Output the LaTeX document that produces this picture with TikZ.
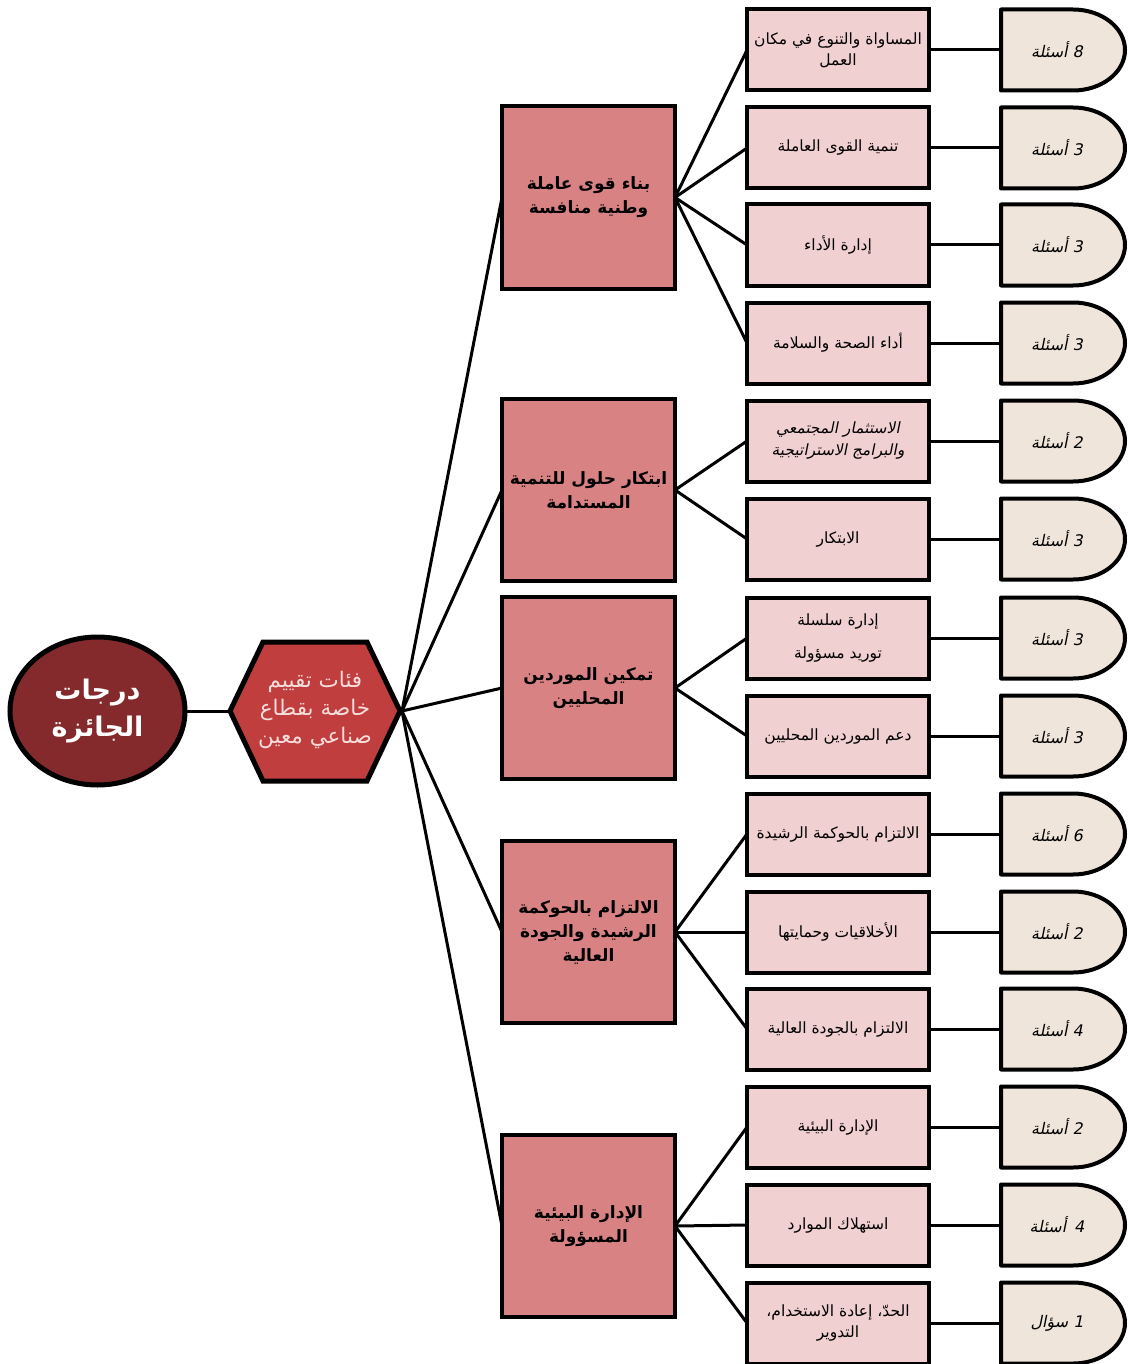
\documentclass[tikz,border=0pt]{standalone}
\usepackage{fontspec}
\usetikzlibrary{shapes.geometric}
\TeXXeTstate=1
\newfontfamily\arabicfont[Script=Arabic]{DejaVu Sans}
\newfontfamily\arabicit[Script=Arabic,FakeSlant=0.2]{DejaVu Sans}
\newcommand\AR[1]{\beginR #1\endR}
\definecolor{rootc}{HTML}{842A2C}
\definecolor{hexc}{HTML}{C13E3F}
\definecolor{hextxt}{HTML}{F5DEDC}
\definecolor{catc}{HTML}{D98283}
\definecolor{leafc}{HTML}{F1D0D2}
\definecolor{qc}{HTML}{EFE5DB}
\begin{document}
\begin{tikzpicture}[x=1pt,y=-1pt,
  conn/.style={line width=3pt},
  catbox/.style={draw, line width=4pt, fill=catc, minimum width=173pt, minimum height=182pt, inner sep=0pt, outer sep=0pt, align=center, font=\arabicfont\bfseries\fontsize{17}{24}\selectfont},
  leafbox/.style={draw, line width=4pt, fill=leafc, minimum width=182pt, minimum height=81pt, inner sep=0pt, outer sep=0pt, align=center, font=\arabicfont\fontsize{15.5}{21}\selectfont},
  qbox/.style={minimum width=112pt, minimum height=81pt, inner sep=0pt, outer sep=0pt, font=\arabicit\fontsize{16}{18}\selectfont},
  qshape/.style={draw, line width=4pt, fill=qc, line join=round}
]
\useasboundingbox[fill=white] (0,0) rectangle (1128,1364);

% root
\node[ellipse, draw, line width=5pt, fill=rootc, minimum width=175pt, minimum height=148pt, inner sep=0pt, outer sep=0pt, align=center, text=white, font=\arabicfont\bfseries\fontsize{27}{37}\selectfont] (root) at (97.5,711) {\AR{درجات}\\\AR{الجائزة}};

% hexagon
\draw[line width=5pt, fill=hexc, line join=miter] (230,711) -- (263,642) -- (367,642) -- (400,711) -- (367,781) -- (263,781) -- cycle;
\coordinate (hexL) at (228,711);
\coordinate (hexR) at (402,711);
\node[align=center, text=hextxt, font=\arabicfont\fontsize{21.5}{28}\selectfont] (hex) at (315,710) {\AR{فئات تقييم}\\\AR{خاصة بقطاع}\\\AR{صناعي معين}};

\draw[conn] (root.east) -- (hexL);

% categories
\node[catbox] (c1) at (588.5,197.5) {\AR{بناء قوى عاملة}\\\AR{وطنية منافسة}};
\node[catbox] (c2) at (588.5,490) {\AR{ابتكار حلول للتنمية}\\\AR{المستدامة}};
\node[catbox] (c3) at (588.5,688) {\AR{تمكين الموردين}\\\AR{المحليين}};
\node[catbox] (c4) at (588.5,932) {\AR{الالتزام بالحوكمة}\\\AR{الرشيدة والجودة}\\\AR{العالية}};
\node[catbox] (c5) at (588.5,1226) {\AR{الإدارة البيئية}\\\AR{المسؤولة}};

\foreach \c in {c1,c2,c3,c4,c5} \draw[conn] (hexR) -- (\c.west);

% leaves
\node[leafbox] (l1) at (838,50) {\AR{المساواة والتنوع في مكان}\\\AR{العمل}};
\node[leafbox] (l2) at (838,148) {\AR{تنمية القوى العاملة}};
\node[leafbox] (l3) at (838,245) {\AR{إدارة الأداء}};
\node[leafbox] (l4) at (838,343) {\AR{أداء الصحة والسلامة}};
\node[leafbox, font=\arabicit\fontsize{15.5}{22}\selectfont] (l5) at (838,441) {\AR{الاستثمار المجتمعي}\\\AR{والبرامج الاستراتيجية}};
\node[leafbox] (l6) at (838,539) {\AR{الابتكار}};
\node[leafbox, font=\arabicfont\fontsize{15.5}{33}\selectfont] (l7) at (838,638) {\AR{إدارة سلسلة}\\\AR{توريد مسؤولة}};
\node[leafbox] (l8) at (838,736) {\AR{دعم الموردين المحليين}};
\node[leafbox] (l9) at (838,834) {\AR{الالتزام بالحوكمة الرشيدة}};
\node[leafbox] (l10) at (838,932) {\AR{الأخلاقيات وحمايتها}};
\node[leafbox] (l11) at (838,1029) {\AR{الالتزام بالجودة العالية}};
\node[leafbox] (l12) at (838,1127) {\AR{الإدارة البيئية}};
\node[leafbox] (l13) at (838,1225) {\AR{استهلاك الموارد}};
\node[leafbox] (l14) at (838,1323) {\AR{الحدّ، إعادة الاستخدام،}\\\AR{التدوير}};

\foreach \l in {l1,l2,l3,l4} \draw[conn] (c1.east) -- (\l.west);
\foreach \l in {l5,l6} \draw[conn] (c2.east) -- (\l.west);
\foreach \l in {l7,l8} \draw[conn] (c3.east) -- (\l.west);
\foreach \l in {l9,l10,l11} \draw[conn] (c4.east) -- (\l.west);
\foreach \l in {l12,l13,l14} \draw[conn] (c5.east) -- (\l.west);

% question counts
\foreach \i/\y/\t in {1/50/{8 أسئلة},2/148/{3 أسئلة},3/245/{3 أسئلة},4/343/{3 أسئلة},5/441/{2 أسئلة},6/539/{3 أسئلة},7/638/{3 أسئلة},8/736/{3 أسئلة},9/834/{6 أسئلة},10/932/{2 أسئلة},11/1029/{4 أسئلة},12/1127/{2 أسئلة},13/1225/{4\hspace{0.5em}أسئلة},14/1323/{1 سؤال}}{
  \path[qshape] (1001,\y-40.5) -- ++(72,0) arc[start angle=90, end angle=-90, x radius=52pt, y radius=40.5pt] -- (1001,\y+40.5) -- cycle;
  \node[qbox] (q\i) at (1057,\y) {\AR{\t}};
  \draw[conn] (l\i.east) -- (q\i.west);
}
\end{tikzpicture}
\end{document}
